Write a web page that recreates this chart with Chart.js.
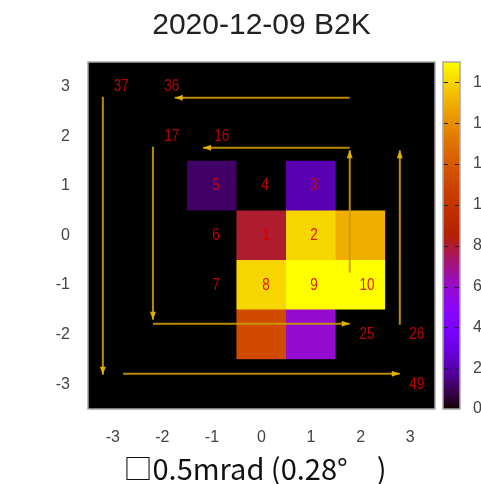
<!DOCTYPE html>
<html>
<head>
<meta charset="utf-8">
<script src="https://cdn.jsdelivr.net/npm/chart.js@4.4.1/dist/chart.umd.min.js"></script>
<style>
  html, body { margin: 0; padding: 0; background: #fff; }
  canvas { display: block; }
</style>
</head>
<body>
<canvas id="beam" width="481" height="484"></canvas>
<script>
// ---------- Données ----------
const cellX = [-3, -2, -1, 0, 1, 2, 3];
const cellY = [3, 2, 1, 0, -1, -2, -3];
// une ligne par valeur de cellY, une colonne par valeur de cellX
const cellValues = [
  [0, 0, 0,   0,    0,   0,  0],
  [0, 0, 0,   0,    0,   0,  0],
  [0, 0, 1.1, 0,    2.1, 0,  0],
  [0, 0, 0,   8.0,  16,  15, 0],
  [0, 0, 0,   16,   17,  17, 0],
  [0, 0, 0,   11.3, 5.9, 0,  0],
  [0, 0, 0,   0,    0,   0,  0],
];

// numéros de balayage en spirale
const spotText = ["37", "36", "17", "16", "5", "4", "3", "6", "1", "2", "7", "8", "9", "10", "25", "26", "49"];
const spotX = [-2.83, -1.81, -1.81, -0.8, -0.92, 0.07, 1.06, -0.92, 0.09, 1.06, -0.92, 0.09, 1.06, 2.13, 2.13, 3.13, 3.13];
const spotY = [3, 3, 2, 2, 1, 1, 1, 0, 0, 0, -1, -1, -1, -1, -2, -2, -3];

// flèches : [x départ, y départ, x arrivée, y arrivée]
const arrowPaths = [
  [1.78, 2.78, -1.75, 2.78],
  [1.78, 1.77, -1.18, 1.77],
  [1.78, -0.75, 1.78, 1.72],
  [-2.19, 1.79, -2.19, -1.70],
  [-2.19, -1.78, 1.78, -1.78],
  [2.79, -1.80, 2.79, 1.72],
  [-3.20, 2.80, -3.20, -2.81],
  [-2.79, -2.79, 2.79, -2.79],
];

const axisTicks = [-3, -2, -1, 0, 1, 2, 3];
const cbTicks = [0, 2, 4, 6, 8, 10, 12, 14, 16];
const cbMax = 17;

// ---------- Palette (noir → violet → rouge → jaune) ----------
function palette(t) {
  t = Math.max(0, Math.min(1, t));
  const r = Math.sqrt(t);
  const g = t * t * t;
  const b = Math.max(0, Math.sin(2 * Math.PI * t));
  return `rgb(${Math.round(r * 255)},${Math.round(g * 255)},${Math.round(b * 255)})`;
}

const cells = [];
cellY.forEach((y, j) => cellX.forEach((x, i) => cells.push({ x, y, v: cellValues[j][i] })));

const arrowColor = "rgba(205,155,0,0.9)";
const arrowSets = arrowPaths.map((p) => ({
  type: "scatter",
  order: 0,
  data: [{ x: p[0], y: p[1] }, { x: p[2], y: p[3] }],
  showLine: true,
  borderColor: arrowColor,
  borderWidth: 2,
  pointRadius: 0,
  pointHoverRadius: 0,
}));

const cellRadius = (c) => {
  const s = c.chart.scales.x;
  return (s.getPixelForValue(0.5) - s.getPixelForValue(-0.5)) / 2 / Math.SQRT1_2 + 0.4;
};

// ---------- Plugin de dessin ----------
const beamPlugin = {
  id: "beam",
  beforeDraw(chart) {
    const { ctx, chartArea: a } = chart;
    ctx.save();
    ctx.fillStyle = "#000";
    ctx.fillRect(a.left, a.top, a.right - a.left, a.bottom - a.top);
    ctx.restore();
  },
  afterDatasetsDraw(chart) {
    const { ctx, chartArea: a, scales } = chart;
    ctx.save();
    // pointes de flèches
    ctx.fillStyle = "rgba(230,180,0,0.95)";
    arrowPaths.forEach((p, i) => {
      const pts = chart.getDatasetMeta(i + 1).data;
      const x1 = pts[0].x, y1 = pts[0].y, x2 = pts[1].x, y2 = pts[1].y;
      const ang = Math.atan2(y2 - y1, x2 - x1);
      ctx.beginPath();
      ctx.moveTo(x2, y2);
      ctx.lineTo(x2 - 8 * Math.cos(ang) + 3 * Math.sin(ang), y2 - 8 * Math.sin(ang) - 3 * Math.cos(ang));
      ctx.lineTo(x2 - 8 * Math.cos(ang) - 3 * Math.sin(ang), y2 - 8 * Math.sin(ang) + 3 * Math.cos(ang));
      ctx.closePath();
      ctx.fill();
    });
    // numéros (police resserrée)
    ctx.fillStyle = "rgba(215,0,0,0.88)";
    ctx.font = "16.5px 'Liberation Sans', Arial, sans-serif";
    ctx.textAlign = "center";
    ctx.textBaseline = "middle";
    spotText.forEach((t, i) => {
      const px = scales.x.getPixelForValue(spotX[i]);
      const py = scales.y.getPixelForValue(spotY[i]);
      ctx.save();
      ctx.translate(px, py);
      ctx.scale(0.82, 1);
      ctx.fillText(t, 0, 0);
      ctx.restore();
    });
    // cadre
    ctx.strokeStyle = "#a8a8a8";
    ctx.lineWidth = 1.5;
    ctx.strokeRect(a.left, a.top, a.right - a.left, a.bottom - a.top);
    ctx.restore();
  },
  afterDraw(chart) {
    const { ctx } = chart;
    const cb = chart.scales.cb;
    const left = cb.left + 8, w = 17;
    const top = cb.getPixelForValue(cbMax), bottom = cb.getPixelForValue(0);
    ctx.save();
    for (let py = Math.floor(top); py < bottom; py++) {
      ctx.fillStyle = palette(cb.getValueForPixel(py + 0.5) / cbMax);
      ctx.fillRect(left, py, w, 1);
    }
    ctx.strokeStyle = "#202020";
    ctx.lineWidth = 1;
    cbTicks.forEach((v) => {
      if (v === 0) return;
      const py = Math.round(cb.getPixelForValue(v)) + 0.5;
      ctx.beginPath();
      ctx.moveTo(left, py); ctx.lineTo(left + 5, py);
      ctx.moveTo(left + w - 5, py); ctx.lineTo(left + w, py);
      ctx.stroke();
    });
    ctx.strokeStyle = "#a8a8a8";
    ctx.lineWidth = 1.5;
    ctx.strokeRect(left, top, w, bottom - top);
    ctx.restore();
  },
};

const tickFont = { family: "'Liberation Sans', Arial, sans-serif", size: 16 };

new Chart(document.getElementById("beam"), {
  type: "scatter",
  data: {
    datasets: [
      {
        order: 10,
        data: cells,
        pointStyle: "rect",
        pointRadius: cellRadius,
        pointHoverRadius: cellRadius,
        pointBorderWidth: 0,
        pointHoverBorderWidth: 0,
        pointBackgroundColor: (c) => palette(c.raw.v / cbMax),
        pointHoverBackgroundColor: (c) => palette(c.raw.v / cbMax),
      },
      ...arrowSets,
    ],
  },
  options: {
    responsive: false,
    animation: false,
    events: [],
    layout: { padding: 0 },
    plugins: {
      legend: { display: false },
      tooltip: { enabled: false },
      title: {
        display: true,
        text: "2020-12-09 B2K",
        fullSize: false,
        color: "#222",
        font: { family: "'Liberation Sans', Arial, sans-serif", size: 30, weight: "normal" },
        padding: { top: 8, bottom: 18 },
      },
    },
    scales: {
      x: {
        type: "linear",
        position: "bottom",
        min: -3.5,
        max: 3.5,
        afterBuildTicks: (s) => { s.ticks = axisTicks.map((v) => ({ value: v })); },
        afterFit: (s) => { s.height = 75; },
        grid: { display: false, drawTicks: false },
        border: { display: false },
        ticks: { font: tickFont, color: "#444", padding: 19, maxRotation: 0 },
        title: {
          display: true,
          text: "□0.5mrad (0.28°　)  ",
          color: "#111",
          font: { family: "'Noto Sans CJK JP', 'Noto Sans', sans-serif", size: 29 },
          padding: { top: 0, bottom: -2 },
        },
      },
      y: {
        type: "linear",
        position: "left",
        min: -3.5,
        max: 3.5,
        afterBuildTicks: (s) => { s.ticks = axisTicks.map((v) => ({ value: v })); },
        afterFit: (s) => { s.width = 88; },
        grid: { display: false, drawTicks: false },
        border: { display: false },
        ticks: { font: tickFont, color: "#444", padding: 18 },
      },
      cb: {
        type: "linear",
        position: "right",
        min: 0,
        max: cbMax,
        afterBuildTicks: (s) => { s.ticks = cbTicks.map((v) => ({ value: v })); },
        afterFit: (s) => { s.width = 46; },
        grid: { display: false, drawTicks: false },
        border: { display: false },
        ticks: { font: tickFont, color: "#444", padding: 38 },
      },
    },
  },
  plugins: [beamPlugin],
});
</script>
</body>
</html>
